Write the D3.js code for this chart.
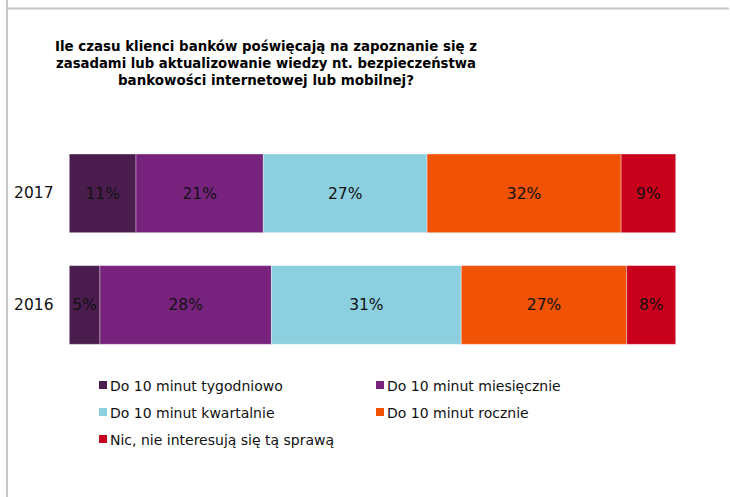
<!DOCTYPE html>
<html>
<head>
<meta charset="utf-8">
<script src="https://cdn.jsdelivr.net/npm/d3@7"></script>
<style>
  html, body { margin: 0; padding: 0; background: #fff; }
  svg { display: block; }
  text { font-family: "DejaVu Sans", Verdana, sans-serif; }
</style>
</head>
<body>
<svg id="chart" width="730" height="497"></svg>
<script>
// Survey answers, per year, in percent
const years = ["2017", "2016"];
const seriesNames = [
  "Do 10 minut tygodniowo",
  "Do 10 minut miesięcznie",
  "Do 10 minut kwartalnie",
  "Do 10 minut rocznie",
  "Nic, nie interesują się tą sprawą"
];
const values2017 = [11, 21, 27, 32, 9];
const values2016 = [5, 28, 31, 27, 8];
const seriesColors = ["#4b1d4f", "#77237d", "#8ccfdf", "#f05206", "#c8001c"];
const titleLines = [
  "Ile czasu klienci banków poświęcają na zapoznanie się z",
  "zasadami lub aktualizowanie wiedzy nt. bezpieczeństwa",
  "bankowości internetowej lub mobilnej?"
];

const svg = d3.select("#chart");
const W = 730, H = 497;

svg.append("rect").attr("width", W).attr("height", H).attr("fill", "#fff");

// frame edges
svg.append("line").attr("x1", 7).attr("x2", 7).attr("y1", 0).attr("y2", H)
  .attr("stroke", "#c8c8c8").attr("stroke-width", 2);
svg.append("line").attr("x1", 8).attr("x2", 729).attr("y1", 8.5).attr("y2", 8.5)
  .attr("stroke", "#c8c8c8").attr("stroke-width", 2);

// title, three centred lines
const titleWidths = [422, 420, 296];
const title = svg.append("text")
  .attr("text-anchor", "middle")
  .attr("font-weight", "bold")
  .attr("font-size", 14.5)
  .attr("fill", "#000");
titleLines.forEach((t, i) => {
  title.append("tspan")
    .attr("x", 266)
    .attr("y", 51 + i * 17)
    .attr("textLength", titleWidths[i])
    .attr("lengthAdjust", "spacingAndGlyphs")
    .text(t);
});

// data table
const rows = years.map((y, i) => {
  const vals = i === 0 ? values2017 : values2016;
  const r = { year: y };
  seriesNames.forEach((s, j) => r[s] = vals[j]);
  return r;
});

const stack = d3.stack().keys(seriesNames).offset(d3.stackOffsetExpand);
const layers = stack(rows);

const x = d3.scaleLinear().domain([0, 1]).range([69.3, 675.7]);
const y = d3.scaleBand().domain(years).range([154, 344.3]).paddingInner(0.295).paddingOuter(0);
const color = d3.scaleOrdinal().domain(seriesNames).range(seriesColors);

const g = svg.append("g");
const layerG = g.selectAll("g.layer").data(layers).join("g")
  .attr("class", "layer")
  .attr("fill", d => color(d.key));

layerG.selectAll("rect").data(d => d).join("rect")
  .attr("x", d => x(d[0]))
  .attr("width", d => x(d[1]) - x(d[0]))
  .attr("y", d => y(d.data.year))
  .attr("height", y.bandwidth())
  .attr("stroke", "#ffffff")
  .attr("stroke-opacity", 0.35)
  .attr("stroke-width", 1);

// value labels
layerG.selectAll("text").data(d => d.map(v => ({ v, key: d.key }))).join("text")
  .attr("x", d => (x(d.v[0]) + x(d.v[1])) / 2)
  .attr("y", d => y(d.v.data.year) + y.bandwidth() / 2)
  .attr("dy", "0.35em")
  .attr("text-anchor", "middle")
  .attr("font-size", 15.5)
  .attr("fill", "#111")
  .text(d => d.v.data[d.key] + "%");

// category axis labels
const yAxis = d3.axisLeft(y).tickSize(0).tickPadding(0);
const axisG = svg.append("g").attr("transform", "translate(53.5,0)").call(yAxis);
axisG.select(".domain").remove();
axisG.selectAll("text")
  .attr("font-family", "DejaVu Sans, Verdana, sans-serif")
  .attr("font-size", 15.5)
  .attr("fill", "#111");

// legend
const legendCols = [99, 376];
const legendRows = [385, 412, 439];
const legend = svg.append("g");
const items = legend.selectAll("g").data(seriesNames).join("g")
  .attr("transform", (d, i) => `translate(${legendCols[i % 2]},${legendRows[Math.floor(i / 2)]})`);
items.append("rect")
  .attr("x", 0).attr("y", -4).attr("width", 8).attr("height", 8)
  .attr("fill", d => color(d));
items.append("text")
  .attr("x", 11).attr("y", 1).attr("dy", "0.35em")
  .attr("font-size", 14)
  .attr("fill", "#111")
  .text(d => d);
</script>
</body>
</html>
